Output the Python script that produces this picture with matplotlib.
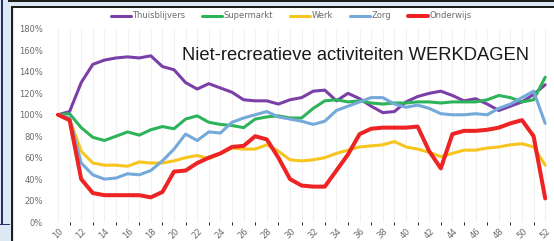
import matplotlib
matplotlib.use("Agg")
import matplotlib.pyplot as plt
from matplotlib.patches import Rectangle
from matplotlib.ticker import FuncFormatter

weeks = list(range(10, 53))

thuisblijvers = [100, 103, 130, 147, 151, 153, 154, 153, 155, 145, 142, 130, 124, 129, 125,
                 121, 114, 113, 113, 110, 114, 116, 122, 123, 113, 120, 115, 108, 102, 103,
                 112, 117, 120, 122, 118, 113, 115, 110, 104, 108, 112, 119, 128]
supermarkt = [100, 101, 88, 79, 76, 80, 84, 81, 86, 89, 87, 96, 99, 93, 91,
              90, 88, 96, 98, 99, 97, 97, 106, 113, 114, 112, 113, 111, 110, 111,
              111, 112, 112, 111, 112, 112, 112, 114, 118, 116, 112, 114, 135]
werk = [100, 96, 66, 55, 53, 53, 52, 56, 55, 55, 57, 60, 62, 59, 64,
        69, 68, 68, 72, 66, 58, 57, 58, 60, 64, 67, 70, 71, 72, 75,
        70, 68, 65, 61, 64, 67, 67, 69, 70, 72, 73, 70, 53]
zorg = [100, 97, 55, 44, 40, 41, 45, 44, 48, 57, 68, 82, 76, 84, 83,
        93, 97, 100, 103, 98, 96, 94, 91, 94, 104, 108, 112, 116, 116, 110,
        107, 109, 106, 101, 100, 100, 101, 100, 106, 110, 116, 122, 92]
onderwijs = [100, 95, 40, 27, 25, 25, 25, 25, 23, 28, 47, 48, 55, 60, 64,
             70, 71, 80, 77, 60, 40, 34, 33, 33, 48, 63, 82, 87, 88, 88,
             88, 89, 66, 50, 82, 85, 85, 86, 88, 92, 95, 80, 22]

series = [
    ("Thuisblijvers", thuisblijvers, "#7b3fa8", 2.2),
    ("Supermarkt", supermarkt, "#2db35a", 2.2),
    ("Werk", werk, "#f7c51e", 2.2),
    ("Zorg", zorg, "#74a9da", 2.2),
    ("Onderwijs", onderwijs, "#ee2424", 2.9),
]

W, H = 554, 241
fig = plt.figure(figsize=(W / 100, H / 100), dpi=100)
fig.patch.set_facecolor("#dce9f5")


def box(x, y, w, h, color):
    # pixel box (top-left origin) -> figure fraction
    fig.add_artist(Rectangle((x / W, 1 - (y + h) / H), w / W, h / H,
                             transform=fig.transFigure, facecolor=color,
                             edgecolor="none", zorder=0))


box(14, 8, 540, 233, "white")
box(8, 0, 546, 1.5, "#1e1e1e")
box(11, 6, 543, 2, "#1e1e1e")
box(11, 6, 2, 235, "#1e1e1e")
box(1, 0, 1.5, 225, "#2a2f6e")
box(0, 223.5, 10, 1.5, "#2a2f6e")

ax = fig.add_axes([46 / W, 1 - 222 / H, (552 - 46) / W, (222 - 29) / H])
ax.set_facecolor("none")
ax.set_xlim(10 - 12 / 11.6, 10 + 494 / 11.6)
ax.set_ylim(0, 180)

for name, vals, col, lw in series:
    ax.plot(weeks, vals, color=col, lw=lw, label=name,
            solid_joinstyle="round", solid_capstyle="round", clip_on=False)

ax.set_xticks(list(range(10, 53, 2)))
ax.set_xticks(list(range(11, 53, 2)), minor=True)
ax.set_yticks(list(range(0, 181, 20)))
ax.yaxis.set_major_formatter(FuncFormatter(lambda v, p: "%d%%" % v))
ax.tick_params(axis="both", length=0, labelsize=6, labelcolor="#6b6b6b")
ax.tick_params(axis="y", pad=2)
for lab in ax.get_xticklabels():
    lab.set_rotation(45)
    lab.set_ha("center")
ax.grid(True, axis="x", which="both", color="#f1f1f1", lw=0.8)
ax.set_axisbelow(True)
for s in ax.spines.values():
    s.set_visible(False)

fig.legend(loc="center", bbox_to_anchor=(291 / W, 1 - 16 / H), ncol=5,
           frameon=False, fontsize=6, labelcolor="#6b6b6b", handlelength=2.4,
           handletextpad=0.2, columnspacing=2.0)

fig.text(356 / W, 1 - 55 / H, "Niet-recreatieve activiteiten WERKDAGEN",
         ha="center", va="center", fontsize=13.2, family="Liberation Sans",
         color="#1a1a1a")

fig.savefig("out.png", dpi=100, facecolor=fig.get_facecolor())
